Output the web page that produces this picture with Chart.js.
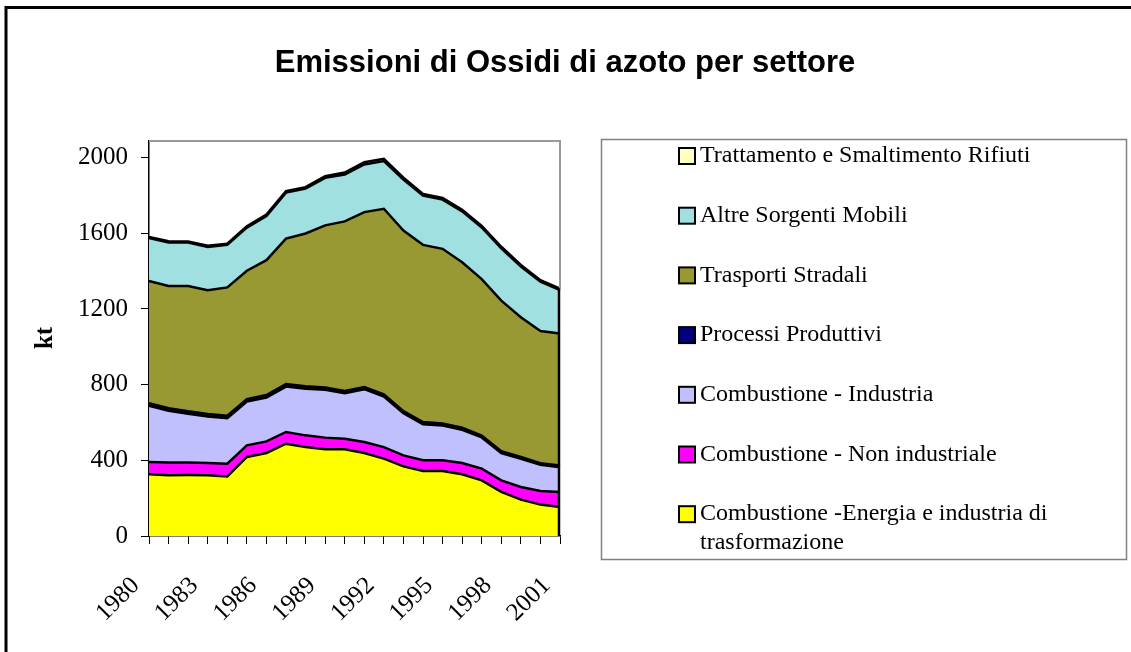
<!DOCTYPE html>
<html><head><meta charset="utf-8">
<script src="https://cdn.jsdelivr.net/npm/chart.js@4.4.1/dist/chart.umd.min.js"></script>
<style>html,body{margin:0;padding:0;background:#fff;overflow:hidden;}</style>
</head><body>
<canvas id="c" width="1131" height="652"></canvas>
<script>
const years = ['1980','1981','1982','1983','1984','1985','1986','1987','1988','1989','1990','1991','1992','1993','1994','1995','1996','1997','1998','1999','2000','2001'];
const xTickLabels = ['1980','1983','1986','1989','1992','1995','1998','2001'];
const yTickValues = [0, 400, 800, 1200, 1600, 2000];
const energia    = [326,321,322,321,315,418,439,488,470,458,458,439,409,368,344,344,326,294,233,192,166,153];
const nonInd     = [65,67,66,65,67,61,61,62,62,62,56,58,61,58,56,56,60,62,61,67,72,80];
const industria  = [297,274,258,246,241,232,232,240,246,253,241,279,267,223,191,184,175,165,144,149,138,131];
const processi   = [14,14,13,13,13,13,13,13,13,12,12,12,12,11,11,11,11,10,10,10,9,9];
const trasporti  = [646,646,662,654,678,678,713,769,808,857,896,924,981,955,937,923,875,827,796,738,699,698];
const altre      = [227,230,230,229,225,228,234,243,237,251,248,252,252,269,260,260,269,273,277,269,260,229];
const rifiuti    = [6,6,6,6,6,7,7,8,8,9,10,12,12,10,9,9,9,8,8,8,8,8];

const seriesNames = ['Combustione -Energia e industria di trasformazione','Combustione - Non industriale','Combustione - Industria','Processi Produttivi','Trasporti Stradali','Altre Sorgenti Mobili','Trattamento e Smaltimento Rifiuti'];
const seriesData = [energia, nonInd, industria, processi, trasporti, altre, rifiuti];
const seriesColors = ['#FFFF00','#FF00FF','#C0C0FF','#000080','#999933','#A0E0E0','#FFFFC0'];

const SERIF = '"Liberation Serif", "Times New Roman", serif';
const SANS = '"Liberation Sans", Arial, sans-serif';

const datasets = seriesNames.map((n, i) => ({
  label: n,
  data: seriesData[i],
  backgroundColor: seriesColors[i],
  borderColor: '#000',
  borderWidth: 2.5,
  pointRadius: 0,
  tension: 0,
  fill: i === 0 ? 'origin' : '-1'
}));

const decor = {
  id: 'decor',
  beforeDraw(chart) {
    const ctx = chart.ctx;
    ctx.save();
    ctx.fillStyle = '#fff';
    ctx.fillRect(0, 0, chart.width, chart.height);
    ctx.restore();
  },
  afterDatasetsDraw(chart) {
    const ctx = chart.ctx, a = chart.chartArea;
    const top = chart.getDatasetMeta(chart.data.datasets.length - 1).data;
    const lastY = top[top.length - 1].y;
    ctx.save();
    ctx.strokeStyle = '#999';
    ctx.lineWidth = 2;
    ctx.beginPath();
    ctx.moveTo(a.left, a.top); ctx.lineTo(a.right, a.top); ctx.lineTo(a.right, lastY);
    ctx.stroke();
    ctx.strokeStyle = '#000';
    ctx.lineWidth = 2.5;
    ctx.beginPath();
    ctx.moveTo(a.right - 1, lastY); ctx.lineTo(a.right - 1, a.bottom);
    ctx.stroke();
    ctx.restore();
  },
  afterDraw(chart) {
    const ctx = chart.ctx;
    ctx.save();
    ctx.strokeStyle = '#000';
    ctx.lineWidth = 3;
    ctx.beginPath();
    ctx.moveTo(6, 660); ctx.lineTo(6, 7.5); ctx.lineTo(1140, 7.5);
    ctx.stroke();
    ctx.fillStyle = '#000';
    ctx.font = 'bold 31px ' + SANS;
    ctx.textAlign = 'center';
    ctx.textBaseline = 'alphabetic';
    ctx.fillText('Emissioni di Ossidi di azoto per settore', 565, 72);
    ctx.save();
    ctx.translate(46, 338);
    ctx.rotate(-Math.PI / 2);
    ctx.font = 'bold 25px ' + SERIF;
    ctx.textAlign = 'center';
    ctx.textBaseline = 'middle';
    ctx.fillText('kt', 0, 0);
    ctx.restore();
    ctx.strokeStyle = '#808080';
    ctx.lineWidth = 1.5;
    ctx.strokeRect(601.5, 139.5, 525, 420);
    ctx.font = '24px ' + SERIF;
    ctx.textAlign = 'left';
    ctx.textBaseline = 'middle';
    const ds = chart.data.datasets.slice().reverse();
    ds.forEach((d, k) => {
      const cy = 156 + k * 59.7;
      ctx.fillStyle = d.backgroundColor;
      ctx.fillRect(679, cy - 8, 16, 16);
      ctx.strokeStyle = '#000';
      ctx.lineWidth = 2;
      ctx.strokeRect(679, cy - 8, 16, 16);
      ctx.fillStyle = '#000';
      const words = d.label.split(' ');
      const lines = [];
      let cur = '';
      words.forEach(w => {
        const t = cur ? cur + ' ' + w : w;
        if (ctx.measureText(t).width > 410 && cur) { lines.push(cur); cur = w; } else cur = t;
      });
      lines.push(cur);
      lines.forEach((l, j) => ctx.fillText(l, 700, cy + j * 29));
    });
    ctx.restore();
  }
};

new Chart(document.getElementById('c'), {
  type: 'line',
  data: { labels: years, datasets },
  options: {
    responsive: false,
    animation: false,
    devicePixelRatio: 1,
    layout: { padding: { left: 0, top: 141, right: 571, bottom: 0 } },
    plugins: { legend: { display: false }, tooltip: { enabled: false }, title: { display: false } },
    scales: {
      x: {
        type: 'category',
        offset: false,
        grid: { display: true, drawOnChartArea: false, drawTicks: true, tickLength: 8, tickColor: '#000', tickWidth: 1 },
        border: { display: true, color: '#000', width: 1.5 },
        ticks: {
          autoSkip: false, minRotation: 45, maxRotation: 45, padding: 14, color: '#000',
          font: { family: SERIF, size: 25 },
          callback: function (v, i) { return xTickLabels.includes(years[i]) ? years[i] + '   ' : ''; }
        },
        afterFit: s => { s.height = 116; }
      },
      y: {
        stacked: true, min: 0, max: 2088,
        grid: { display: true, drawOnChartArea: false, drawTicks: true, tickLength: 8, tickColor: '#000' },
        border: { display: true, color: '#000', width: 1.5 },
        ticks: { padding: 13, color: '#000', font: { family: SERIF, size: 25 }, callback: v => String(v) },
        afterBuildTicks: s => { s.ticks = yTickValues.map(v => ({ value: v })); },
        afterFit: s => { s.width = 149; }
      }
    }
  },
  plugins: [decor]
});
</script>
</body></html>
